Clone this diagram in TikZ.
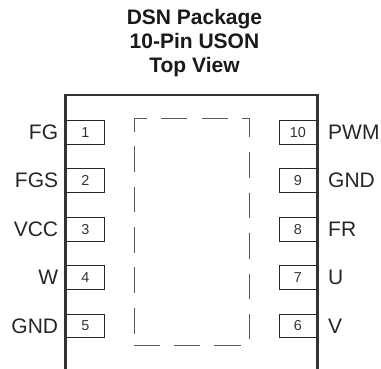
\documentclass[tikz,border=0pt]{standalone}
\usepackage{fontspec}
\setmainfont{Liberation Sans}
\tikzset{
  pinbox/.style={draw=black!85,line width=0.9pt,minimum width=38pt,minimum height=23.7pt,inner sep=0pt,font=\fontsize{14.4}{16}\selectfont,text=black!80},
  leftname/.style={anchor=base east,inner sep=0pt,font=\fontsize{21}{24}\selectfont,text=black!85},
  rightname/.style={anchor=base west,inner sep=0pt,font=\fontsize{21}{24}\selectfont,text=black!85},
  titletext/.style={anchor=base,inner sep=0pt,font=\bfseries\fontsize{21}{24}\selectfont,text=black!90},
  bodyline/.style={draw=black!80,line width=2.2pt,line join=miter},
  dashline/.style={draw=black!65,line width=1pt}
}
\begin{document}
\begin{tikzpicture}[x=1pt,y=-1pt]
\useasboundingbox (0,0) rectangle (381,369);
\node[titletext] (t1) at (194.5,25) {DSN Package};
\node[titletext] (t2) at (194.5,49) {10-Pin USON};
\node[titletext] (t3) at (194.5,73) {Top View};
% pins
\node[pinbox] (p1) at (85.3,132.3) {1};
\node[pinbox] (p2) at (85.3,180.7) {2};
\node[pinbox] (p3) at (85.3,229.2) {3};
\node[pinbox] (p4) at (85.3,277.5) {4};
\node[pinbox] (p5) at (85.3,326) {5};
\node[pinbox] (p10) at (298,132.3) {10};
\node[pinbox] (p9) at (298,180.7) {9};
\node[pinbox] (p8) at (298,229.2) {8};
\node[pinbox] (p7) at (298,277.5) {7};
\node[pinbox] (p6) at (298,326) {6};
% body
\draw[bodyline] (65.5,369) -- (65.5,95) -- (317.5,95) -- (317.5,369);
% names
\node[leftname] (n1) at (58.3,139.5) {FG};
\node[leftname] (n2) at (58.3,188) {FGS};
\node[leftname] (n3) at (58.3,236.7) {VCC};
\node[leftname] (n4) at (58.3,284.8) {W};
\node[leftname] (n5) at (58.3,333.3) {GND};
\node[rightname] (n10) at (328,139.5) {PWM};
\node[rightname] (n9) at (328,188) {GND};
\node[rightname] (n8) at (328,236.7) {FR};
\node[rightname] (n7) at (328,284.8) {U};
\node[rightname] (n6) at (328,333.3) {V};
% thermal pad outline
\draw[dashline] (134,132) -- (134,118.5) -- (146.5,118.5);
\draw[dashline] (161,118.5) -- (187,118.5);
\draw[dashline] (202,118.5) -- (228,118.5);
\draw[dashline] (242,118.5) -- (249,118.5) -- (249,137.5);
\draw[dashline] (249,152) -- (249,178);
\draw[dashline] (249,192.7) -- (249,218.5);
\draw[dashline] (249,233) -- (249,259);
\draw[dashline] (249,273.5) -- (249,299);
\draw[dashline] (249,314) -- (249,339);
\draw[dashline] (134,146) -- (134,172);
\draw[dashline] (134,186.7) -- (134,212.5);
\draw[dashline] (134,227) -- (134,253);
\draw[dashline] (134,267) -- (134,293);
\draw[dashline] (134,308) -- (134,334);
\draw[dashline] (134,345.7) -- (160,345.7);
\draw[dashline] (174,345.7) -- (200,345.7);
\draw[dashline] (214.3,345.7) -- (241,345.7);
\end{tikzpicture}
\end{document}
